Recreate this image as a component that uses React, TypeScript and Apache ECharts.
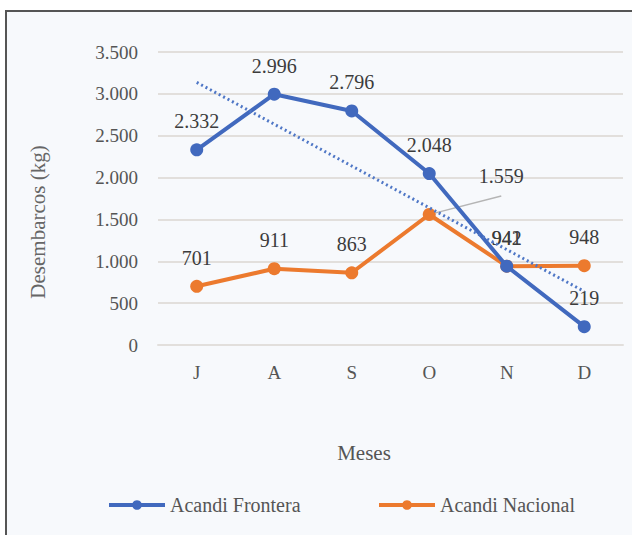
import React, { useEffect, useRef } from "react";
import * as echarts from "echarts";

const months = ["J", "A", "S", "O", "N", "D"];
const frontera = [2332, 2996, 2796, 2048, 941, 219];
const nacional = [701, 911, 863, 1559, 942, 948];
const yTicks = [0, 500, 1000, 1500, 2000, 2500, 3000, 3500];

const BLUE = "#4169BE";
const ORANGE = "#EC7A2E";
const FONT = "Liberation Serif";

const fmt = (v: number) =>
  String(Math.round(v)).replace(/\B(?=(\d{3})+(?!\d))/g, ".");

// Least-squares linear trend over the Acandi Frontera values
function linearTrend(values: number[]): number[] {
  const n = values.length;
  const xs = values.map((_, i) => i + 1);
  const mx = xs.reduce((a, b) => a + b, 0) / n;
  const my = values.reduce((a, b) => a + b, 0) / n;
  let num = 0;
  let den = 0;
  xs.forEach((x, i) => {
    num += (x - mx) * (values[i] - my);
    den += (x - mx) * (x - mx);
  });
  const slope = num / den;
  return xs.map((x) => my + slope * (x - mx));
}

export default function App() {
  const ref = useRef<HTMLDivElement>(null);

  useEffect(() => {
    if (!ref.current) return;
    const chart = echarts.init(ref.current, null, { renderer: "svg" });
    const trend = linearTrend(frontera);

    const labelStyle = {
      show: true,
      position: "top" as const,
      distance: 12,
      fontFamily: FONT,
      fontSize: 20,
      color: "#3c3c3c",
      formatter: (p: any) => fmt(p.value),
    };

    const legendCommon = {
      top: 490,
      itemWidth: 56,
      itemHeight: 12,
      itemGap: 4,
      lineStyle: { width: 4 },
      textStyle: { fontFamily: FONT, fontSize: 20, color: "#555555" },
    };

    chart.setOption({
      animation: false,
      backgroundColor: "transparent",
      textStyle: { fontFamily: FONT },
      grid: { left: 158, right: 9, top: 52, bottom: 190 },
      graphic: [
        {
          type: "rect",
          silent: true,
          z: -10,
          shape: { x: 6, y: 11, width: 700, height: 600 },
          style: { fill: "#f7f9fc", stroke: "#555555", lineWidth: 2 },
        },
        {
          type: "text",
          x: 364,
          y: 453,
          style: {
            text: "Meses",
            fontFamily: FONT,
            fontSize: 21,
            fill: "#555555",
            align: "center",
            verticalAlign: "middle",
          },
        },
        {
          type: "text",
          x: 38,
          y: 222,
          rotation: Math.PI / 2,
          style: {
            text: "Desembarcos (kg)",
            fontFamily: FONT,
            fontSize: 21,
            fill: "#666666",
            align: "center",
            verticalAlign: "middle",
          },
        },
      ],
      legend: [
        { ...legendCommon, data: ["Acandi Frontera"], left: 102 },
        { ...legendCommon, data: ["Acandi Nacional"], left: 372 },
      ],
      xAxis: {
        type: "category",
        data: months,
        boundaryGap: true,
        axisLine: { show: true, lineStyle: { color: "#e2dfdc", width: 2 } },
        axisTick: { show: false },
        axisLabel: {
          fontFamily: FONT,
          fontSize: 19,
          color: "#555555",
          margin: 18,
        },
      },
      yAxis: {
        type: "value",
        min: 0,
        max: yTicks[yTicks.length - 1],
        interval: 500,
        axisLine: { show: false },
        axisTick: { show: false },
        axisLabel: {
          fontFamily: FONT,
          fontSize: 19,
          color: "#555555",
          margin: 20,
          formatter: (v: number) => fmt(v),
        },
        splitLine: { lineStyle: { color: "#e2dfdc", width: 2 } },
      },
      series: [
        {
          name: "Acandi Frontera",
          type: "line",
          data: frontera,
          symbol: "circle",
          symbolSize: 13,
          lineStyle: { color: BLUE, width: 4 },
          itemStyle: { color: BLUE },
          label: labelStyle,
          z: 3,
        },
        {
          name: "Acandi Nacional",
          type: "line",
          data: nacional.map((v, i) =>
            i === 3
              ? {
                  value: v,
                  label: {
                    position: "top",
                    offset: [72, -10],
                  },
                  labelLine: {
                    show: true,
                    lineStyle: { color: "#b5b5b5", width: 1.5 },
                  },
                }
              : v
          ),
          symbol: "circle",
          symbolSize: 13,
          lineStyle: { color: ORANGE, width: 4 },
          itemStyle: { color: ORANGE },
          label: labelStyle,
          z: 2,
        },
        {
          name: "Tendencia",
          type: "line",
          data: trend,
          showSymbol: false,
          symbol: "none",
          silent: true,
          lineStyle: { color: "#4f77c6", width: 3, type: [2, 3] },
          label: { show: false },
          z: 4,
        },
      ],
    });

    return () => chart.dispose();
  }, []);

  return (
    <div
      ref={ref}
      style={{ position: "absolute", left: 0, top: 0, width: 632, height: 535 }}
    />
  );
}
